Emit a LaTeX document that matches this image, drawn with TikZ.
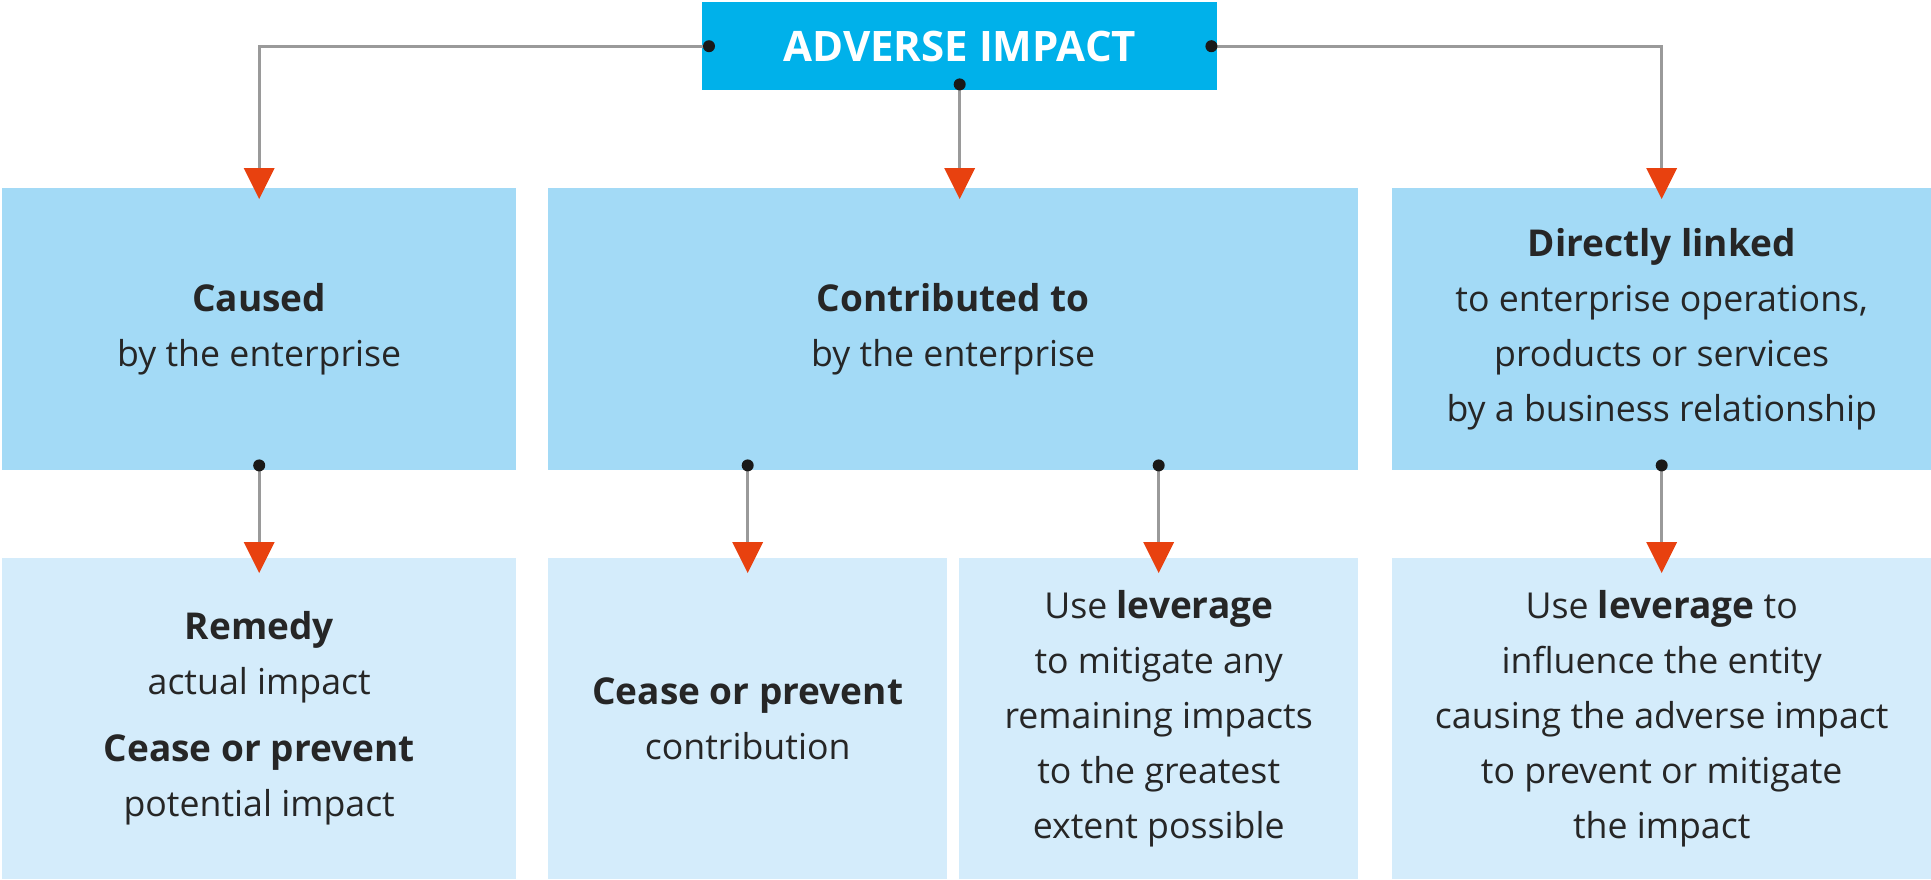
\documentclass[tikz,border=0pt]{standalone}
\usepackage{fontspec}
\setmainfont{Open Sans}
\usetikzlibrary{arrows.meta,positioning}
\definecolor{headblue}{HTML}{00B1EA}
\definecolor{effblue}{HTML}{A3DAF6}
\definecolor{actblue}{HTML}{D4ECFB}
\definecolor{tipred}{HTML}{E8410F}
\definecolor{wiregray}{HTML}{9A9A9A}
\definecolor{inkgray}{HTML}{262626}
\newcommand{\hl}[1]{{\bfseries\fontsize{37}{55}\selectfont #1}}
\tikzset{
  box/.style={anchor=north west, inner sep=0pt, align=center, text=inkgray,
    font=\fontsize{35.7}{55}\selectfont},
  headbox/.style={box, fill=headblue, text=white, font=\bfseries\fontsize{42}{48}\selectfont},
  effbox/.style={box, fill=effblue, minimum height=282pt},
  actbox/.style={box, fill=actblue, minimum height=321pt},
  wire/.style={draw=wiregray, line width=3pt,
    -{Triangle[width=31pt,length=31pt,color=tipred,line width=0pt]}},
  knob/.style={fill=black!90}
}
\begin{document}
\begin{tikzpicture}[x=1pt,y=-1pt]
  \useasboundingbox (0,0) rectangle (1931,879);
  % boxes
  \node[headbox, minimum width=515pt, minimum height=88pt] (impact) at (702,2) {ADVERSE IMPACT};
  \node[effbox, minimum width=514pt] (caused) at (2,188) {\hl{Caused}\\by the enterprise};
  \node[effbox, minimum width=810pt] (contrib) at (548,188) {\hl{Contributed to}\\by the enterprise};
  \node[effbox, minimum width=539pt] (linked) at (1392,188)
    {\hl{Directly linked}\\to enterprise operations,\\products or services\\by a business relationship};
  \node[actbox, minimum width=514pt] (remedy) at (2,558)
    {\hl{Remedy}\\actual impact\\[12pt]\hl{Cease or prevent}\\potential impact};
  \node[actbox, minimum width=399pt] (cease) at (548,558) {\hl{Cease or prevent}\\contribution};
  \node[actbox, minimum width=399pt] (mitig) at (959,558)
    {Use \hl{leverage}\\to mitigate any\\remaining impacts\\to the greatest\\extent possible};
  \node[actbox, minimum width=539pt] (influ) at (1392,558)
    {Use \hl{leverage} to\\influence the entity\\causing the adverse impact\\to prevent or mitigate\\the impact};
  % connector start points
  \coordinate (d0) at ([xshift=7pt]impact.west);
  \coordinate (d1) at ([yshift=6pt]impact.south);
  \coordinate (d2) at ([xshift=-6pt]impact.east);
  \path (caused.south) ++(0,-5) coordinate (d3);
  \path (contrib.south -| cease.north) ++(0,-5) coordinate (d4);
  \path (contrib.south -| mitig.north) ++(0,-5) coordinate (d5);
  \path (linked.south) ++(0,-5) coordinate (d6);
  % connectors
  \draw[wire, shorten >=-11pt] (d0) -| (caused.north);
  \draw[wire, shorten >=-11pt] (d1) -- (d1 |- contrib.north);
  \draw[wire, shorten >=-11pt] (d2) -| (linked.north);
  \foreach \d/\t in {d3/remedy,d4/cease,d5/mitig,d6/influ}
    \draw[wire, shorten >=-15pt] (\d) -- (\d |- \t.north);
  \foreach \d in {d0,d1,d2,d3,d4,d5,d6}
    \fill[knob] (\d) circle (6pt);
\end{tikzpicture}
\end{document}
